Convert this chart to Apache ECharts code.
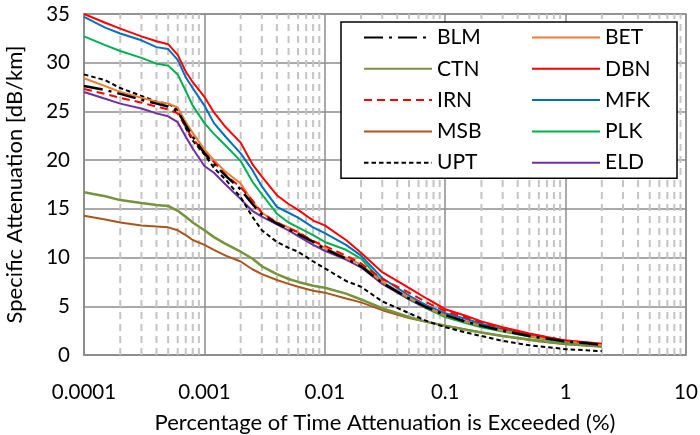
<!DOCTYPE html>
<html><head><meta charset="utf-8">
<script src="https://cdn.jsdelivr.net/npm/echarts/dist/echarts.min.js"></script>
<style>html,body{margin:0;padding:0;background:#fff}#c{width:700px;height:435px}</style>
</head><body><div id="c"></div>
<script>
// % of time attenuation is exceeded
const percentTime = [0.0001,0.00015,0.0002,0.0003,0.0004,0.0005,0.0006,0.0007,0.0008,0.001,0.0012,0.0015,0.002,0.0025,0.003,0.004,0.005,0.006,0.008,0.01,0.015,0.02,0.03,0.05,0.07,0.1,0.15,0.2,0.3,0.5,0.7,1,1.5,2];
// specific attenuation [dB/km]
const BLM = [27.6,27.2,26.8,26.2,25.8,25.5,25.0,23.6,22.4,20.7,19.6,18.4,17.0,15.5,14.4,13.5,12.9,12.4,11.6,10.9,9.9,9.1,7.4,5.8,4.9,4.1,3.4,3.0,2.5,1.95,1.7,1.4,1.2,1.05];
const BET = [28.4,27.6,27.0,26.4,26.0,25.8,25.4,23.9,22.8,21.1,20.0,18.8,17.6,15.8,14.6,13.6,13.1,12.6,11.7,11.0,10.0,9.3,7.5,5.9,4.9,4.05,3.4,3.0,2.5,1.95,1.65,1.4,1.15,1.0];
const CTN = [16.7,16.3,15.9,15.6,15.4,15.3,14.8,14.2,13.6,12.8,12.1,11.4,10.6,9.9,9.1,8.3,7.8,7.5,7.1,6.9,6.3,5.7,4.8,3.9,3.4,3.0,2.6,2.3,1.95,1.6,1.35,1.15,1.0,0.9];
const DBN = [35.0,34.1,33.5,32.7,32.2,31.9,30.8,29.1,28.0,26.5,24.9,23.4,21.8,19.6,18.3,16.4,15.5,14.9,13.8,13.3,11.8,10.5,8.5,6.9,5.8,4.7,4.0,3.45,2.85,2.2,1.85,1.5,1.3,1.15];
const IRN = [27.3,26.8,26.4,25.9,25.5,25.2,24.8,23.4,22.2,20.8,19.8,18.5,17.2,15.9,14.6,13.6,13.0,12.6,11.7,11.2,10.2,9.4,7.8,6.4,5.4,4.5,3.85,3.35,2.75,2.15,1.8,1.5,1.25,1.1];
const MFK = [34.7,33.6,33.0,32.3,31.6,31.4,30.3,28.5,27.4,25.6,23.8,22.4,20.7,19.0,17.3,15.2,14.6,14.1,13.1,12.5,11.3,10.2,7.9,6.1,5.1,4.3,3.7,3.2,2.65,2.05,1.75,1.45,1.2,1.05];
const MSB = [14.3,13.9,13.6,13.3,13.2,13.1,12.8,12.3,11.8,11.3,10.8,10.2,9.6,8.8,8.3,7.7,7.3,7.0,6.6,6.4,5.8,5.4,4.6,3.8,3.4,3.0,2.6,2.3,1.95,1.55,1.3,1.1,0.95,0.85];
const PLK = [32.7,31.8,31.2,30.5,29.9,29.7,28.8,27.1,25.6,23.8,22.7,21.5,19.9,17.8,16.5,14.5,13.6,13.1,12.3,11.6,10.8,9.9,7.5,5.8,4.8,3.9,3.25,2.85,2.4,1.9,1.6,1.3,1.1,0.95];
const UPT = [28.8,28.2,27.4,26.6,26.0,25.8,25.2,23.3,22.0,20.6,19.2,18.0,16.2,14.2,12.8,11.6,11.0,10.6,9.6,8.9,7.6,7.0,5.5,4.3,3.5,2.85,2.3,1.95,1.45,1.0,0.8,0.6,0.48,0.4];
const ELD = [27.0,26.3,25.8,25.3,24.8,24.5,23.9,22.4,21.2,19.4,18.7,17.5,16.0,14.8,14.2,13.4,12.8,12.2,11.3,10.7,9.8,9.0,7.3,5.7,4.8,4.1,3.45,3.05,2.55,2.0,1.75,1.45,1.25,1.1];

const xTickLabels = ['0.0001','0.001','0.01','0.1','1','10'];
const minorGridValues = [0.0002,0.0003,0.0004,0.0005,0.0006,0.0007,0.0008,0.0009,
  0.002,0.003,0.004,0.005,0.006,0.007,0.008,0.009,
  0.02,0.03,0.04,0.05,0.06,0.07,0.08,0.09,
  0.2,0.3,0.4,0.5,0.6,0.7,0.8,0.9,
  2,3,4,5,6,7,8,9];
const legendCol1 = ['BLM','CTN','IRN','MSB','UPT'];
const legendCol2 = ['BET','DBN','MFK','PLK','ELD'];

const FONT = 'Lato';
const styles = {
  BLM: {color:'#000000', width:2.5, type:[19,6,3,6]},
  BET: {color:'#ED7D31', width:2, type:'solid'},
  CTN: {color:'#77933C', width:2.5, type:'solid'},
  DBN: {color:'#FF0000', width:2, type:'solid'},
  IRN: {color:'#FF0000', width:2, type:[8,5]},
  MFK: {color:'#0070C0', width:2, type:'solid'},
  MSB: {color:'#A9551C', width:2, type:'solid'},
  PLK: {color:'#00B050', width:2, type:'solid'},
  UPT: {color:'#000000', width:2, type:[4.5,3]},
  ELD: {color:'#7030A0', width:2, type:'solid'}
};
const seriesData = {BLM, BET, CTN, DBN, IRN, MFK, MSB, PLK, UPT, ELD};
const order = ['MSB','CTN','ELD','UPT','PLK','MFK','DBN','BET','IRN','BLM'];

// minor vertical gridlines as segments through the log scale
const minorSeg = [];
minorGridValues.forEach(v => { minorSeg.push([v, 0], [v, 35], [v, '-']); });

const series = [{
  name:'_minor', type:'line', data:minorSeg, silent:true, z:1, symbol:'none',
  connectNulls:false,
  lineStyle:{color:'#C4C4C4', width:2, type:[7,5]}
}];
order.forEach(n => {
  const s = styles[n];
  series.push({
    name:n, type:'line', symbol:'none', showSymbol:false, z:3,
    data: percentTime.map((x,i) => [x, seriesData[n][i]]),
    lineStyle:{color:s.color, width:s.width, type:s.type},
    itemStyle:{color:s.color}
  });
});

const legendText = {fontFamily:FONT, fontSize:21, color:'#000', lineHeight:21};
const chart = echarts.init(document.getElementById('c'), null, {renderer:'canvas'});
chart.setOption({
  animation:false,
  backgroundColor:'#fff',
  grid:{left:84, right:14, top:14, bottom:80, show:true, borderColor:'#8C8C8C', borderWidth:1.5, backgroundColor:'#fff', outerBoundsMode:'none'},
  xAxis:{
    type:'log', logBase:10, min:0.0001, max:10,
    axisLine:{lineStyle:{color:'#8C8C8C', width:1.5}},
    axisTick:{show:false},
    splitLine:{show:true, lineStyle:{color:'#8C8C8C', width:1.5}},
    axisLabel:{fontFamily:FONT, fontSize:20.5, color:'#000', margin:27,
      formatter: v => xTickLabels[Math.round(Math.log10(v)) + 4]},
    name:'Percentage of Time Attenuation is Exceeded (%)', nameLocation:'middle', nameGap:57,
    nameTextStyle:{fontFamily:FONT, fontSize:22, color:'#000'}
  },
  yAxis:{
    type:'value', min:0, max:35, interval:5,
    axisLine:{show:true, lineStyle:{color:'#8C8C8C', width:1.5}},
    axisTick:{show:false},
    splitLine:{show:true, lineStyle:{color:'#8C8C8C', width:1.5}},
    axisLabel:{fontFamily:FONT, fontSize:20.5, color:'#000', margin:14},
    name:'Specific Attenuation [dB/km]', nameLocation:'middle', nameGap:58,
    nameTextStyle:{fontFamily:FONT, fontSize:22, color:'#000'}
  },
  legend:[{
    data:legendCol1, orient:'vertical', left:341, top:22,
    padding:[5,180,5,22], itemGap:10.3, itemWidth:68, itemHeight:14,
    backgroundColor:'#fff', borderColor:'#000', borderWidth:1.5,
    itemStyle:{opacity:0},
    textStyle:Object.assign({width:60}, legendText), selectedMode:false
  },{
    data:legendCol2, orient:'vertical', left:531, top:22,
    padding:[5,0,5,0], itemGap:10.3, itemWidth:68, itemHeight:14,
    itemStyle:{opacity:0},
    textStyle:legendText, selectedMode:false
  }],
  series: series
});
</script></body></html>
